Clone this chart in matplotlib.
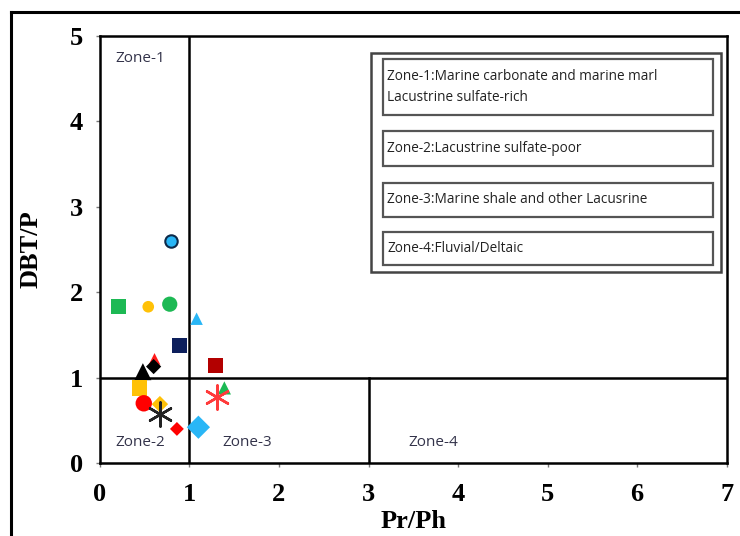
import matplotlib.pyplot as plt
from matplotlib.patches import Rectangle
from matplotlib.lines import Line2D

# datos (Pr/Ph, DBT/P)
pr_ph = [0.79, 0.21, 0.54, 0.78, 1.08, 0.89, 0.61, 0.60, 0.48, 1.29,
         0.44, 1.39, 1.31, 0.49, 0.67, 0.67, 0.86, 1.10]
dbt_p = [2.60, 1.83, 1.83, 1.86, 1.69, 1.38, 1.22, 1.13, 1.07, 1.14,
         0.88, 0.88, 0.77, 0.70, 0.69, 0.58, 0.40, 0.42]
markers = ["o", "s", "o", "o", "^", "s", "^", "D", "^", "s",
           "s", "^", "*", "o", "D", "*", "D", "D"]
colors = ["#29b6f6", "#1db954", "#ffc107", "#1db954", "#29b6f6", "#0d1f5c",
          "#ff1a1a", "#000000", "#000000", "#b30000", "#ffc107", "#1db954",
          "#ff3b3b", "#ff0000", "#ffc107", "#222222", "#ff0000", "#29b6f6"]
sizes = [80, 120, 70, 120, 80, 120, 70, 60, 150, 120,
         120, 90, 300, 140, 70, 300, 50, 140]

zone_labels = ["Zone-1", "Zone-2", "Zone-3", "Zone-4"]
legend_text = ["Zone-1:Marine carbonate and marine marl\nLacustrine sulfate-rich",
               "Zone-2:Lacustrine sulfate-poor",
               "Zone-3:Marine shale and other Lacusrine",
               "Zone-4:Fluvial/Deltaic"]

fig = plt.figure(figsize=(7.4, 5.36), dpi=100)
ax = fig.add_axes([0.135, 0.136, 0.847, 0.797])

# marco exterior de la figura
fig.add_artist(Line2D([11/740, 11/740], [0, 1 - 12/536], color="black", lw=2.2,
                      transform=fig.transFigure))
fig.add_artist(Line2D([11/740, 1], [1 - 12/536, 1 - 12/536], color="black", lw=2.2,
                      transform=fig.transFigure))

# lineas de zonas
ax.axvline(1, color="black", lw=1.8, zorder=1)
ax.axhline(1, color="black", lw=1.8, zorder=1)
ax.plot([3, 3], [0, 1], color="black", lw=1.8, zorder=1)

for i in range(len(pr_ph)):
    m = markers[i]
    if m == "*":
        # asterisco de 6 puntas
        ax.scatter(pr_ph[i], dbt_p[i], marker=(6, 2, 0), s=sizes[i], c=colors[i],
                   linewidths=1.8, zorder=4)
    elif i == 0:
        ax.scatter(pr_ph[i], dbt_p[i], marker=m, s=sizes[i], c=colors[i],
                   edgecolors="#0d2a4a", linewidths=1.5, zorder=3)
    else:
        ax.scatter(pr_ph[i], dbt_p[i], marker=m, s=sizes[i], c=colors[i],
                   edgecolors="none", zorder=3)

zfont = dict(family="Open Sans", fontsize=11, color="#33334a")
ax.text(0.17, 4.70, zone_labels[0], **zfont)
ax.text(0.17, 0.20, zone_labels[1], **zfont)
ax.text(1.37, 0.20, zone_labels[2], **zfont)
ax.text(3.45, 0.20, zone_labels[3], **zfont)

# cuadro de leyenda (coordenadas de ejes)
def px2ax(x0, y0, x1, y1):
    ax_l, ax_r, ax_t, ax_b = 100, 727, 36, 463
    return ((x0 - ax_l) / (ax_r - ax_l), (ax_b - y1) / (ax_b - ax_t),
            (x1 - x0) / (ax_r - ax_l), (y1 - y0) / (ax_b - ax_t))

bx, by, bw, bh = px2ax(371, 53, 721, 272)
ax.add_patch(Rectangle((bx, by), bw, bh, transform=ax.transAxes, fill=False,
                       ec="#444444", lw=1.8, zorder=2))
boxes = [(383, 59, 713, 115), (383, 131, 713, 166), (383, 183, 713, 217), (383, 232, 713, 265)]
for (x0, y0, x1, y1), t in zip(boxes, legend_text):
    bx, by, bw, bh = px2ax(x0, y0, x1, y1)
    ax.add_patch(Rectangle((bx, by), bw, bh, transform=ax.transAxes, fill=False,
                           ec="#555555", lw=1.6, zorder=2))
    ax.text(bx + 0.007, by + bh / 2, t, transform=ax.transAxes, va="center",
            family="Open Sans", fontsize=9.8, color="#222222", linespacing=1.55)

ax.set_xlim(0, 7)
ax.set_ylim(0, 5)
ax.set_xticks(range(8))
ax.set_yticks(range(6))
for s in ax.spines.values():
    s.set_linewidth(1.8)
ax.tick_params(direction="out", length=3, width=1, color="#777777", pad=9)
ax.tick_params(axis="x", pad=11)
for lab in ax.get_xticklabels() + ax.get_yticklabels():
    lab.set_family("Liberation Serif")
    lab.set_fontweight("bold")
    lab.set_fontsize(19)

ax.set_xlabel("Pr/Ph", family="Liberation Serif", fontweight="bold", fontsize=19, labelpad=3)
ax.set_ylabel("DBT/P", family="Liberation Serif", fontweight="bold", fontsize=19, labelpad=20)

fig.savefig("out.png", dpi=100)
